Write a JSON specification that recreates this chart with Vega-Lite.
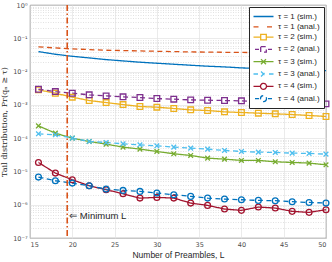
{
  "$schema": "https://vega.github.io/schema/vega-lite/v6.json",
  "autosize": "none",
  "width": 296,
  "height": 233,
  "padding": {"left": 30, "top": 5, "right": 6, "bottom": 24},
  "background": "white",
  "config": {
    "view": {"stroke": "#4d4d4d", "strokeWidth": 0.8},
    "font": "Liberation Sans",
    "axis": {"domain": false, "ticks": false, "labelColor": "#4d4d4d", "labelFontSize": 6.5, "labelFont": "DejaVu Sans", "titleColor": "#262626", "titleFontWeight": "normal"}
  },
  "datasets": {
    "curves": [
      {"L":16,"p":0.0398,"s":"τ = 1 (sim.)"},{"L":18,"p":0.0331,"s":"τ = 1 (sim.)"},{"L":20,"p":0.0288,"s":"τ = 1 (sim.)"},{"L":22,"p":0.0257,"s":"τ = 1 (sim.)"},{"L":24,"p":0.0229,"s":"τ = 1 (sim.)"},{"L":26,"p":0.0209,"s":"τ = 1 (sim.)"},{"L":28,"p":0.0191,"s":"τ = 1 (sim.)"},{"L":30,"p":0.0178,"s":"τ = 1 (sim.)"},{"L":32,"p":0.0166,"s":"τ = 1 (sim.)"},{"L":34,"p":0.0155,"s":"τ = 1 (sim.)"},{"L":36,"p":0.0145,"s":"τ = 1 (sim.)"},{"L":38,"p":0.0138,"s":"τ = 1 (sim.)"},{"L":40,"p":0.0129,"s":"τ = 1 (sim.)"},{"L":42,"p":0.0123,"s":"τ = 1 (sim.)"},{"L":44,"p":0.0117,"s":"τ = 1 (sim.)"},{"L":46,"p":0.0115,"s":"τ = 1 (sim.)"},{"L":48,"p":0.0110,"s":"τ = 1 (sim.)"},{"L":50,"p":0.0107,"s":"τ = 1 (sim.)"},
      {"L":16,"p":0.0550,"s":"τ = 1 (anal.)"},{"L":18,"p":0.0513,"s":"τ = 1 (anal.)"},{"L":20,"p":0.0479,"s":"τ = 1 (anal.)"},{"L":22,"p":0.0457,"s":"τ = 1 (anal.)"},{"L":24,"p":0.0437,"s":"τ = 1 (anal.)"},{"L":26,"p":0.0427,"s":"τ = 1 (anal.)"},{"L":28,"p":0.0417,"s":"τ = 1 (anal.)"},{"L":30,"p":0.0407,"s":"τ = 1 (anal.)"},{"L":32,"p":0.0398,"s":"τ = 1 (anal.)"},{"L":34,"p":0.0389,"s":"τ = 1 (anal.)"},{"L":36,"p":0.0385,"s":"τ = 1 (anal.)"},{"L":38,"p":0.0380,"s":"τ = 1 (anal.)"},{"L":40,"p":0.0376,"s":"τ = 1 (anal.)"},{"L":42,"p":0.0372,"s":"τ = 1 (anal.)"},{"L":44,"p":0.0367,"s":"τ = 1 (anal.)"},{"L":46,"p":0.0363,"s":"τ = 1 (anal.)"},{"L":48,"p":0.0359,"s":"τ = 1 (anal.)"},{"L":50,"p":0.0355,"s":"τ = 1 (anal.)"},
      {"L":16,"p":0.00282,"s":"τ = 2 (sim.)"},{"L":18,"p":0.00224,"s":"τ = 2 (sim.)"},{"L":20,"p":0.00170,"s":"τ = 2 (sim.)"},{"L":22,"p":0.00135,"s":"τ = 2 (sim.)"},{"L":24,"p":0.00117,"s":"τ = 2 (sim.)"},{"L":26,"p":0.00102,"s":"τ = 2 (sim.)"},{"L":28,"p":0.000891,"s":"τ = 2 (sim.)"},{"L":30,"p":0.000851,"s":"τ = 2 (sim.)"},{"L":32,"p":0.000776,"s":"τ = 2 (sim.)"},{"L":34,"p":0.000708,"s":"τ = 2 (sim.)"},{"L":36,"p":0.000676,"s":"τ = 2 (sim.)"},{"L":38,"p":0.000617,"s":"τ = 2 (sim.)"},{"L":40,"p":0.000589,"s":"τ = 2 (sim.)"},{"L":42,"p":0.000562,"s":"τ = 2 (sim.)"},{"L":44,"p":0.000537,"s":"τ = 2 (sim.)"},{"L":46,"p":0.000513,"s":"τ = 2 (sim.)"},{"L":48,"p":0.000479,"s":"τ = 2 (sim.)"},{"L":50,"p":0.000447,"s":"τ = 2 (sim.)"},
      {"L":16,"p":0.00295,"s":"τ = 2 (anal.)"},{"L":18,"p":0.00251,"s":"τ = 2 (anal.)"},{"L":20,"p":0.00224,"s":"τ = 2 (anal.)"},{"L":22,"p":0.00200,"s":"τ = 2 (anal.)"},{"L":24,"p":0.00186,"s":"τ = 2 (anal.)"},{"L":26,"p":0.00174,"s":"τ = 2 (anal.)"},{"L":28,"p":0.00166,"s":"τ = 2 (anal.)"},{"L":30,"p":0.00155,"s":"τ = 2 (anal.)"},{"L":32,"p":0.00148,"s":"τ = 2 (anal.)"},{"L":34,"p":0.00141,"s":"τ = 2 (anal.)"},{"L":36,"p":0.00138,"s":"τ = 2 (anal.)"},{"L":38,"p":0.00135,"s":"τ = 2 (anal.)"},{"L":40,"p":0.00132,"s":"τ = 2 (anal.)"},{"L":42,"p":0.00126,"s":"τ = 2 (anal.)"},{"L":44,"p":0.00123,"s":"τ = 2 (anal.)"},{"L":46,"p":0.00117,"s":"τ = 2 (anal.)"},{"L":48,"p":0.00112,"s":"τ = 2 (anal.)"},{"L":50,"p":0.00107,"s":"τ = 2 (anal.)"},
      {"L":16,"p":0.000234,"s":"τ = 3 (sim.)"},{"L":18,"p":0.000141,"s":"τ = 3 (sim.)"},{"L":20,"p":0.000100,"s":"τ = 3 (sim.)"},{"L":22,"p":0.0000794,"s":"τ = 3 (sim.)"},{"L":24,"p":0.0000661,"s":"τ = 3 (sim.)"},{"L":26,"p":0.0000537,"s":"τ = 3 (sim.)"},{"L":28,"p":0.0000468,"s":"τ = 3 (sim.)"},{"L":30,"p":0.0000398,"s":"τ = 3 (sim.)"},{"L":32,"p":0.0000339,"s":"τ = 3 (sim.)"},{"L":34,"p":0.0000302,"s":"τ = 3 (sim.)"},{"L":36,"p":0.0000251,"s":"τ = 3 (sim.)"},{"L":38,"p":0.0000234,"s":"τ = 3 (sim.)"},{"L":40,"p":0.0000214,"s":"τ = 3 (sim.)"},{"L":42,"p":0.0000214,"s":"τ = 3 (sim.)"},{"L":44,"p":0.0000195,"s":"τ = 3 (sim.)"},{"L":46,"p":0.0000186,"s":"τ = 3 (sim.)"},{"L":48,"p":0.0000178,"s":"τ = 3 (sim.)"},{"L":50,"p":0.0000158,"s":"τ = 3 (sim.)"},
      {"L":16,"p":0.000135,"s":"τ = 3 (anal.)"},{"L":18,"p":0.000126,"s":"τ = 3 (anal.)"},{"L":20,"p":0.000100,"s":"τ = 3 (anal.)"},{"L":22,"p":0.0000794,"s":"τ = 3 (anal.)"},{"L":24,"p":0.0000741,"s":"τ = 3 (anal.)"},{"L":26,"p":0.0000676,"s":"τ = 3 (anal.)"},{"L":28,"p":0.0000631,"s":"τ = 3 (anal.)"},{"L":30,"p":0.0000589,"s":"τ = 3 (anal.)"},{"L":32,"p":0.0000537,"s":"τ = 3 (anal.)"},{"L":34,"p":0.0000501,"s":"τ = 3 (anal.)"},{"L":36,"p":0.0000468,"s":"τ = 3 (anal.)"},{"L":38,"p":0.0000427,"s":"τ = 3 (anal.)"},{"L":40,"p":0.0000398,"s":"τ = 3 (anal.)"},{"L":42,"p":0.0000380,"s":"τ = 3 (anal.)"},{"L":44,"p":0.0000372,"s":"τ = 3 (anal.)"},{"L":46,"p":0.0000355,"s":"τ = 3 (anal.)"},{"L":48,"p":0.0000347,"s":"τ = 3 (anal.)"},{"L":50,"p":0.0000331,"s":"τ = 3 (anal.)"},
      {"L":16,"p":0.0000186,"s":"τ = 4 (sim.)"},{"L":18,"p":0.00000891,"s":"τ = 4 (sim.)"},{"L":20,"p":0.00000562,"s":"τ = 4 (sim.)"},{"L":22,"p":0.00000372,"s":"τ = 4 (sim.)"},{"L":24,"p":0.00000282,"s":"τ = 4 (sim.)"},{"L":26,"p":0.00000214,"s":"τ = 4 (sim.)"},{"L":28,"p":0.00000158,"s":"τ = 4 (sim.)"},{"L":30,"p":0.00000166,"s":"τ = 4 (sim.)"},{"L":32,"p":0.00000158,"s":"τ = 4 (sim.)"},{"L":34,"p":0.00000112,"s":"τ = 4 (sim.)"},{"L":36,"p":0.000000955,"s":"τ = 4 (sim.)"},{"L":38,"p":0.000000741,"s":"τ = 4 (sim.)"},{"L":40,"p":0.000000676,"s":"τ = 4 (sim.)"},{"L":42,"p":0.000000851,"s":"τ = 4 (sim.)"},{"L":44,"p":0.000000794,"s":"τ = 4 (sim.)"},{"L":46,"p":0.000000631,"s":"τ = 4 (sim.)"},{"L":48,"p":0.000000589,"s":"τ = 4 (sim.)"},{"L":50,"p":0.000000708,"s":"τ = 4 (sim.)"},
      {"L":16,"p":0.00000676,"s":"τ = 4 (anal.)"},{"L":18,"p":0.00000525,"s":"τ = 4 (anal.)"},{"L":20,"p":0.00000447,"s":"τ = 4 (anal.)"},{"L":22,"p":0.00000372,"s":"τ = 4 (anal.)"},{"L":24,"p":0.00000295,"s":"τ = 4 (anal.)"},{"L":26,"p":0.00000269,"s":"τ = 4 (anal.)"},{"L":28,"p":0.00000251,"s":"τ = 4 (anal.)"},{"L":30,"p":0.00000224,"s":"τ = 4 (anal.)"},{"L":32,"p":0.00000200,"s":"τ = 4 (anal.)"},{"L":34,"p":0.00000178,"s":"τ = 4 (anal.)"},{"L":36,"p":0.00000158,"s":"τ = 4 (anal.)"},{"L":38,"p":0.00000148,"s":"τ = 4 (anal.)"},{"L":40,"p":0.00000141,"s":"τ = 4 (anal.)"},{"L":42,"p":0.00000135,"s":"τ = 4 (anal.)"},{"L":44,"p":0.00000132,"s":"τ = 4 (anal.)"},{"L":46,"p":0.00000123,"s":"τ = 4 (anal.)"},{"L":48,"p":0.00000117,"s":"τ = 4 (anal.)"},{"L":50,"p":0.00000112,"s":"τ = 4 (anal.)"}
    ],
    "minL": [{"L": 19.4, "p": 0.00000045, "label": "⇐ Minimum L"}]
  },
  "encoding": {
    "x": {"field": "L", "type": "quantitative", "scale": {"domain": [15, 50], "nice": false},
      "axis": {"title": "Number of Preambles, L", "titleFontSize": 8.5, "titlePadding": 3, "values": [15,20,25,30,35,40,45,50], "gridColor": "#e3e3e3", "gridWidth": 0.7, "labelPadding": 3}},
    "y": {"field": "p", "type": "quantitative", "scale": {"type": "log", "domain": [1e-7, 1], "nice": false},
      "axis": {"title": "Tail distribution, Pr(qₙ ≥ τ)", "titleFont": "DejaVu Serif", "titleFontSize": 8, "titlePadding": 4, "labelPadding": 3, "labelOverlap": false,
        "values": [1e-7,2e-7,3e-7,4e-7,5e-7,6e-7,7e-7,8e-7,9e-7,1e-6,2e-6,3e-6,4e-6,5e-6,6e-6,7e-6,8e-6,9e-6,1e-5,2e-5,3e-5,4e-5,5e-5,6e-5,7e-5,8e-5,9e-5,1e-4,2e-4,3e-4,4e-4,5e-4,6e-4,7e-4,8e-4,9e-4,1e-3,2e-3,3e-3,4e-3,5e-3,6e-3,7e-3,8e-3,9e-3,0.01,0.02,0.03,0.04,0.05,0.06,0.07,0.08,0.09,0.1,0.2,0.3,0.4,0.5,0.6,0.7,0.8,0.9,1],
        "labelExpr": "abs(log(datum.value)/LN10 - round(log(datum.value)/LN10)) > 0.01 ? '' : (round(log(datum.value)/LN10) == 0 ? '10⁰' : '10⁻' + ['⁰','¹','²','³','⁴','⁵','⁶','⁷'][-round(log(datum.value)/LN10)])",
        "gridDash": {"condition": {"test": "abs(log(datum.value)/LN10 - round(log(datum.value)/LN10)) > 0.01", "value": [1, 1.5]}, "value": []},
        "gridColor": {"condition": {"test": "abs(log(datum.value)/LN10 - round(log(datum.value)/LN10)) > 0.01", "value": "#d6d6d6"}, "value": "#e3e3e3"},
        "gridWidth": 0.7}}
  },
  "layer": [
    {
      "data": {"name": "curves"},
      "mark": {"type": "line", "strokeWidth": 1.3, "clip": true},
      "encoding": {
        "color": {"field": "s", "type": "nominal",
          "scale": {"domain": ["τ = 1 (sim.)","τ = 1 (anal.)","τ = 2 (sim.)","τ = 2 (anal.)","τ = 3 (sim.)","τ = 3 (anal.)","τ = 4 (sim.)","τ = 4 (anal.)"],
            "range": ["#0072BD","#D95319","#EDB120","#7E2F8E","#77AC30","#4DBEEE","#A2142F","#0072BD"]}},
        "strokeDash": {"field": "s", "type": "nominal", "legend": null,
          "scale": {"domain": ["τ = 1 (sim.)","τ = 1 (anal.)","τ = 2 (sim.)","τ = 2 (anal.)","τ = 3 (sim.)","τ = 3 (anal.)","τ = 4 (sim.)","τ = 4 (anal.)"],
            "range": [[1,0],[5,3.5],[1,0],[5,3.5],[1,0],[5,3.5],[1,0],[5,3.5]]}}
      }
    },
    {
      "data": {"name": "curves"},
      "transform": [{"filter": "indexof(datum.s, 'τ = 2') == 0"}],
      "mark": {"type": "point", "shape": "square", "filled": false, "size": 32, "strokeWidth": 1.3, "opacity": 1},
      "encoding": {"color": {"field": "s", "type": "nominal"}}
    },
    {
      "data": {"name": "curves"},
      "transform": [{"filter": "indexof(datum.s, 'τ = 3') == 0"}],
      "mark": {"type": "point", "shape": "M-1,-1L1,1M-1,1L1,-1", "filled": false, "size": 22, "strokeWidth": 1.3, "opacity": 1},
      "encoding": {"color": {"field": "s", "type": "nominal"}}
    },
    {
      "data": {"name": "curves"},
      "transform": [{"filter": "indexof(datum.s, 'τ = 4') == 0"}],
      "mark": {"type": "point", "shape": "circle", "filled": false, "size": 34, "strokeWidth": 1.3, "opacity": 1},
      "encoding": {"color": {"field": "s", "type": "nominal"}}
    },
    {
      "data": {"name": "curves"},
      "mark": {"type": "point", "filled": false, "opacity": 0, "size": 100},
      "encoding": {
        "color": {"field": "s", "type": "nominal",
          "legend": {"title": null, "orient": "top-right", "offset": 2, "padding": 3.5, "strokeColor": "#262626", "fillColor": "white",
            "labelFontSize": 8, "labelColor": "#262626", "labelFont": "Liberation Sans", "symbolSize": 100, "symbolStrokeWidth": 1.3, "symbolOpacity": 1, "symbolOffset": 5, "labelOffset": 8.5, "rowPadding": 0.3}},
        "shape": {"field": "s", "type": "nominal",
          "scale": {"domain": ["τ = 1 (sim.)","τ = 1 (anal.)","τ = 2 (sim.)","τ = 2 (anal.)","τ = 3 (sim.)","τ = 3 (anal.)","τ = 4 (sim.)","τ = 4 (anal.)"],
            "range": [
              "M-2,0H2",
              "M-2,0H-0.7M0.7,0H2",
              "M-2,0H-0.56M0.56,0H2M-0.56,-0.56H0.56V0.56H-0.56Z",
              "M-1.7,0H-0.9M0.9,0H1.7M-0.56,-0.56H0.56V0.56H-0.56Z",
              "M-2,0H2M-0.5,-0.5L0.5,0.5M-0.5,0.5L0.5,-0.5",
              "M-2,0H-1.1M1.1,0H2M-0.5,-0.5L0.5,0.5M-0.5,0.5L0.5,-0.5",
              "M-2,0H-0.6M0.6,0H2M0.6,0A0.6,0.6 0 1,1 -0.6,0A0.6,0.6 0 1,1 0.6,0",
              "M-1.7,0H-0.9M0.9,0H1.7M0.6,0A0.6,0.6 0 1,1 -0.6,0A0.6,0.6 0 1,1 0.6,0"]},
          "legend": {"title": null, "orient": "top-right", "offset": 2, "padding": 3.5, "strokeColor": "#262626", "fillColor": "white",
            "labelFontSize": 8, "labelColor": "#262626", "labelFont": "Liberation Sans", "symbolSize": 100, "symbolStrokeWidth": 1.3, "symbolOpacity": 1, "symbolOffset": 5, "labelOffset": 8.5, "rowPadding": 0.3}}
      }
    },
    {
      "data": {"name": "minL"},
      "mark": {"type": "rule", "color": "#D95319", "strokeWidth": 1.6, "strokeDash": [6, 2.5, 1.5, 2.5]},
      "encoding": {"x": {"field": "L", "type": "quantitative"}, "y": null}
    },
    {
      "data": {"name": "minL"},
      "mark": {"type": "text", "align": "left", "baseline": "middle", "dx": 2, "fontSize": 9.5, "color": "#262626", "font": "Liberation Sans"},
      "encoding": {"text": {"field": "label"}}
    }
  ]
}
